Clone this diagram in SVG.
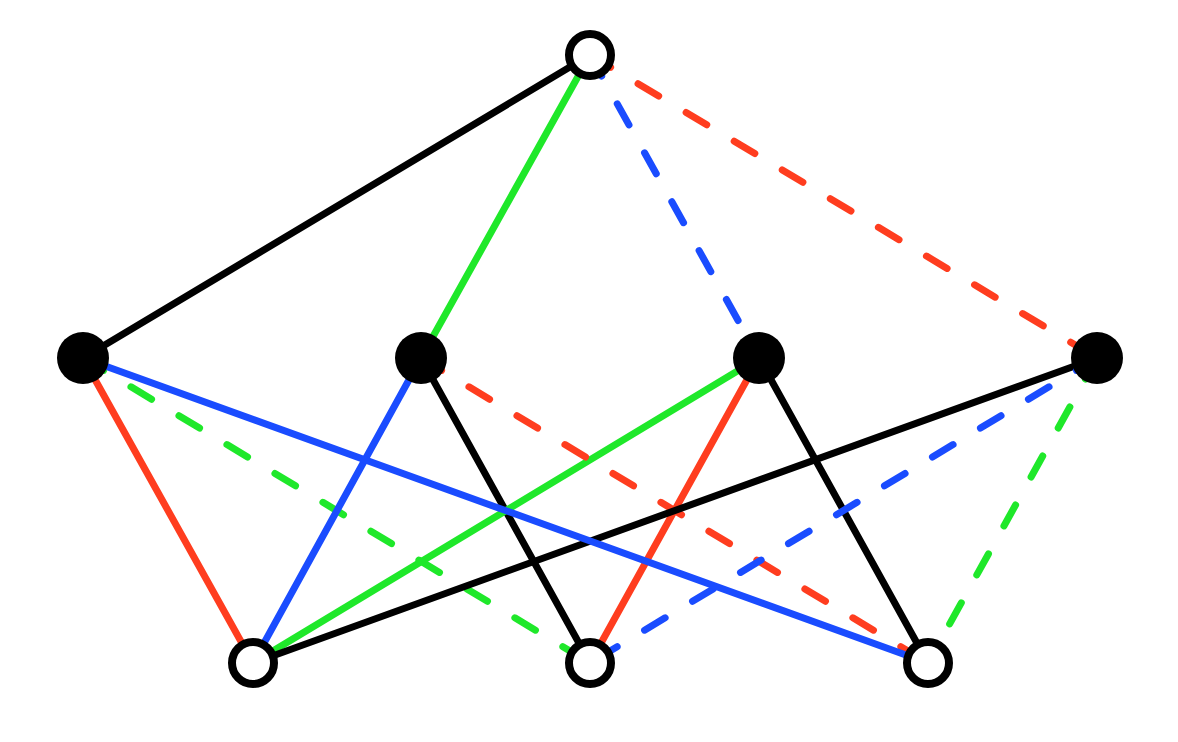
<svg xmlns="http://www.w3.org/2000/svg" width="1178" height="742" viewBox="0 0 1178 742">
<style>
.e{stroke-width:7;stroke-linecap:round;fill:none}
.d{stroke-dasharray:24 32}
.k{stroke:#000}
.r{stroke:#ff3d1f}
.g{stroke:#1fe82a}
.b{stroke:#1a4cff}
.open{fill:#fff;stroke:#000;stroke-width:8}
.full{fill:#000}
</style>
<rect width="1178" height="742" fill="#fff"/>
<g id="connectors">
<line class="e d g" x1="83" y1="358" x2="590" y2="663"/>
<line class="e k" x1="590" y1="55" x2="83" y2="358"/>
<line class="e g" x1="590" y1="55" x2="421" y2="358"/>
<line class="e d b" x1="590" y1="55" x2="759" y2="358"/>
<line class="e d r" x1="590" y1="55" x2="1097" y2="358"/>
<line class="e r" x1="83" y1="358" x2="253" y2="663"/>
<line class="e k" x1="421" y1="358" x2="590" y2="663"/>
<line class="e b" x1="421" y1="358" x2="253" y2="663"/>
<line class="e g" x1="759" y1="358" x2="253" y2="663"/>
<line class="e d r" x1="421" y1="358" x2="928" y2="663"/>
<line class="e r" x1="759" y1="358" x2="590" y2="663"/>
<line class="e k" x1="759" y1="358" x2="928" y2="663"/>
<line class="e k" x1="1097" y1="358" x2="253" y2="663"/>
<line class="e d b" x1="1097" y1="358" x2="590" y2="663"/>
<line class="e d g" x1="1097" y1="358" x2="928" y2="663"/>
<line class="e b" x1="83" y1="358" x2="928" y2="663"/>
</g>
<g id="n-top"><circle class="open" cx="590" cy="55" r="21"/></g>
<g id="n-m1"><circle class="full" cx="83" cy="358" r="26"/></g>
<g id="n-m2"><circle class="full" cx="421" cy="358" r="26"/></g>
<g id="n-m3"><circle class="full" cx="759" cy="358" r="26"/></g>
<g id="n-m4"><circle class="full" cx="1097" cy="358" r="26"/></g>
<g id="n-b1"><circle class="open" cx="253" cy="663" r="21"/></g>
<g id="n-b2"><circle class="open" cx="590" cy="663" r="21"/></g>
<g id="n-b3"><circle class="open" cx="928" cy="663" r="21"/></g>
</svg>
